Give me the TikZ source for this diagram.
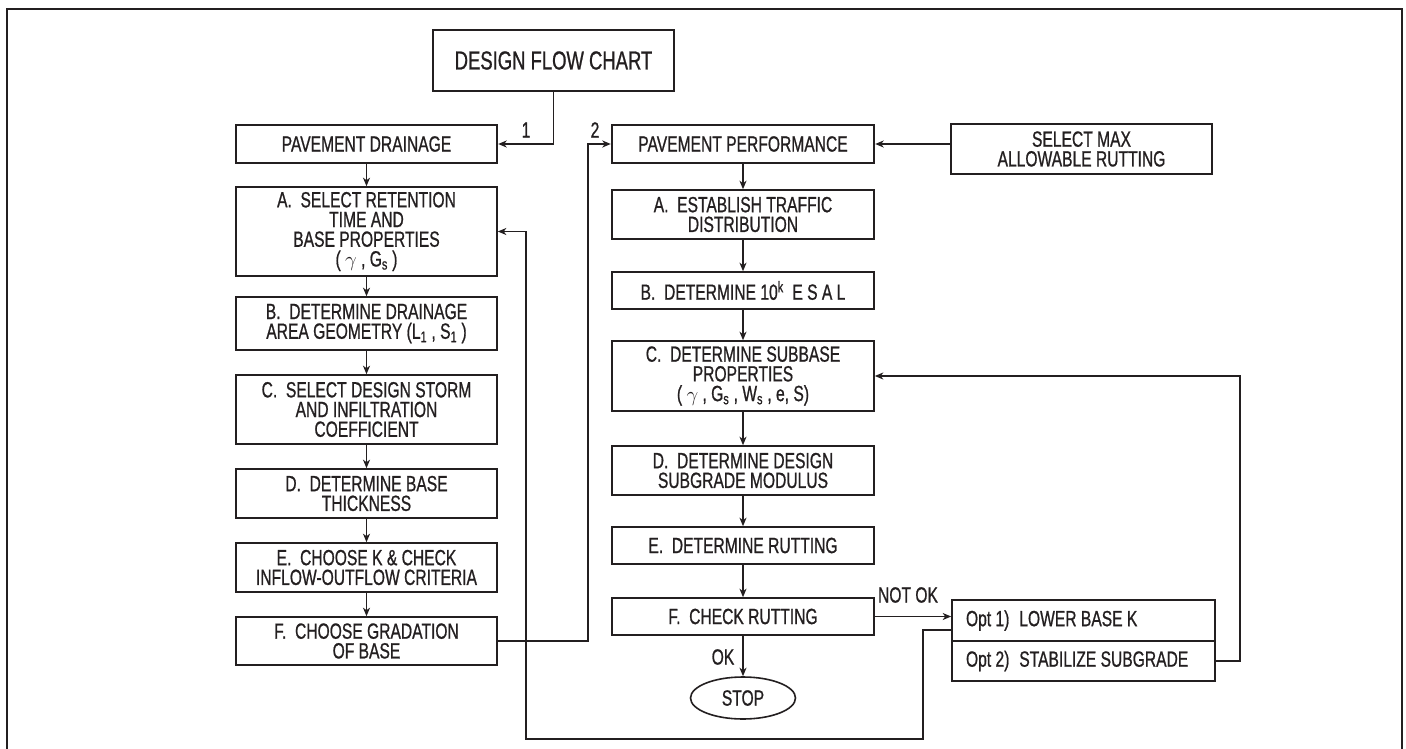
\documentclass[tikz,border=0pt]{standalone}
\usepackage{fontspec}
\setmainfont{Liberation Sans}[FakeStretch=0.71,FakeBold=0.8]
\usetikzlibrary{arrows.meta,shapes.geometric,calc}
\definecolor{ink}{RGB}{35,31,32}
\begin{document}
\begin{tikzpicture}[x=1pt,y=-1pt,
  every node/.style={text=ink, font=\fontsize{22}{19.7}\selectfont},
  box/.style={draw=ink, line width=1.6pt, rectangle, inner sep=0pt, align=center},
  thickbox/.style={box, line width=2.4pt},
  optbox/.style={box, minimum height=41pt, minimum width=263pt},
  arr/.style={draw=ink, line width=1.4pt, -{Stealth[length=8.5pt,width=7pt,inset=2.5pt]}},
  ln/.style={draw=ink, line width=1.4pt}]
\useasboundingbox (0,0) rectangle (1406,749);
\draw[ink, line width=1.5pt] (7,749) -- (7,9) -- (1402,9) -- (1402,749);

% title
\node[thickbox, minimum width=241pt, minimum height=61pt, font=\fontsize{26}{27}\selectfont] (dfc) at (553.5,60.5) {DESIGN FLOW CHART};

% left column
\node[thickbox, minimum width=261pt, minimum height=38pt] (pd) at (366.5,144) {PAVEMENT DRAINAGE};
\node[box, minimum width=261pt, minimum height=89pt] (la) at (366.5,231.5) {A.~~SELECT RETENTION\\TIME AND\\BASE PROPERTIES\\( $\gamma$ , G\textsubscript{s} )};
\node[box, minimum width=261pt, minimum height=53pt] (lb) at (366.5,323.5) {B.~~DETERMINE DRAINAGE\\AREA GEOMETRY (L\textsubscript{1} , S\textsubscript{1} )};
\node[box, minimum width=261pt, minimum height=69pt] (lc) at (366.5,409.5) {C.~~SELECT DESIGN STORM\\AND INFILTRATION\\COEFFICIENT};
\node[box, minimum width=261pt, minimum height=49pt] (ld) at (366.5,493.5) {D.~~DETERMINE BASE\\THICKNESS};
\node[box, minimum width=261pt, minimum height=49pt] (le) at (366.5,567.5) {E.~~CHOOSE K \& CHECK\\INFLOW-OUTFLOW CRITERIA};
\node[box, minimum width=261pt, minimum height=48pt] (lf) at (366.5,641) {F.~~CHOOSE GRADATION\\OF BASE};

% right column
\node[thickbox, minimum width=262pt, minimum height=38pt] (pp) at (743,144) {PAVEMENT PERFORMANCE};
\node[box, minimum width=262pt, minimum height=49pt] (ra) at (743,214.5) {A.~~ESTABLISH TRAFFIC\\DISTRIBUTION};
\node[box, minimum width=262pt, minimum height=37pt] (rb) at (743,290.5) {B.~~DETERMINE 10\textsuperscript{k}~~E S A L};
\node[box, minimum width=262pt, minimum height=70pt] (rc) at (743,376) {C.~~DETERMINE SUBBASE\\PROPERTIES\\( $\gamma$ , G\textsubscript{s} , W\textsubscript{s} , e, S)};
\node[box, minimum width=262pt, minimum height=49pt] (rd) at (743,470.5) {D.~~DETERMINE DESIGN\\SUBGRADE MODULUS};
\node[box, minimum width=262pt, minimum height=37pt] (re) at (743,545.5) {E.~~DETERMINE RUTTING};
\node[box, minimum width=262pt, minimum height=37pt] (rf) at (743,616.5) {F.~~CHECK RUTTING};
\node[draw=ink, line width=1.6pt, ellipse, inner sep=0pt, minimum width=105pt, minimum height=42pt] (stop) at (743,698) {STOP};

\node[box, minimum width=261pt, minimum height=50pt] (sma) at (1081.5,149) {SELECT MAX\\ALLOWABLE RUTTING};
\node[optbox] (opt1) at (1083.5,620.5) {\makebox[235pt][l]{Opt 1)\hspace{0.45em}LOWER BASE K}};
\node[optbox, minimum height=40pt] (opt2) at (1083.5,661) {\makebox[235pt][l]{Opt 2)\hspace{0.45em}STABILIZE SUBGRADE}};

% labels
\node (l1) at (526,130) {1};
\node (l2) at (595,130) {2};
\node (lnotok) at (908,595) {NOT OK};
\node (lok) at (723,657) {OK};

% connectors
\draw[arr] (dfc.south) |- (pd.east);
\foreach \a/\b in {pd/la,la/lb,lb/lc,lc/ld,ld/le,le/lf,pp/ra,ra/rb,rb/rc,rc/rd,rd/re,re/rf,rf/stop}
  \draw[arr] (\a) -- (\b);
\draw[arr] (sma.west |- pp.east) -- (pp.east);
\draw[arr] (rf.east) -- (rf.east -| opt1.west);
\coordinate (m1) at (588,641);
\draw[arr] (lf.east) -- (m1) |- (pp.west);
\coordinate (r1) at (1240,661);
\draw[arr] (opt2.east) -- (r1) |- (rc.east);
\coordinate (b1) at (923,739);
\coordinate (b2) at (526,739);
\draw[arr] ([yshift=-9.5pt]opt1.west) -| (b1) -- (b2) |- (la.east);
\end{tikzpicture}
\end{document}
